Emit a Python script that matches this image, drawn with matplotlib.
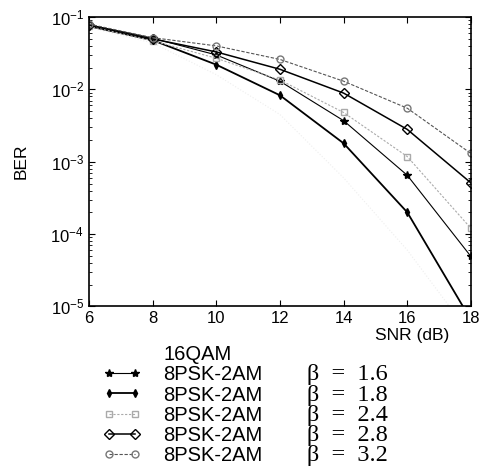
import matplotlib.pyplot as plt
import numpy as np
from matplotlib.ticker import LogLocator, FixedLocator, NullFormatter

plt.rcParams['font.family'] = ['Liberation Sans', 'DejaVu Sans']
plt.rcParams['mathtext.fontset'] = 'custom'
plt.rcParams['mathtext.rm'] = 'Liberation Sans'

# SNR (dB)
snr = [6, 8, 10, 12, 14, 16, 18]

# BER
ber_16qam = [0.072, 0.044, 0.016, 0.0045, 0.0006, 0.00006, 0.000004]
ber_b16 = [0.078, 0.051, 0.030, 0.013, 0.0037, 0.00065, 0.000049]
ber_b18 = [0.075, 0.048, 0.022, 0.0083, 0.0018, 0.00020, 0.0000065]
ber_b24 = [0.075, 0.047, 0.027, 0.0135, 0.0048, 0.00118, 0.00012]
ber_b28 = [0.078, 0.050, 0.033, 0.019, 0.0089, 0.0028, 0.00051]
ber_b32 = [0.080, 0.052, 0.040, 0.026, 0.013, 0.0055, 0.0013]

betas = ['β  =  1.6', 'β  =  1.8', 'β  =  2.4', 'β  =  2.8', 'β  =  3.2']

fig = plt.figure(figsize=(4.83, 4.75), dpi=100)
ax = fig.add_axes([0.184, 0.355, 0.791, 0.609])

h0, = ax.plot(snr, ber_16qam, linestyle=':', color='#eeeeee', lw=0.8)
h1, = ax.plot(snr, ber_b16, '-', color='k', lw=0.8, marker='*', ms=6,
              mfc='k', mec='k')
h2, = ax.plot(snr, ber_b18, '-', color='k', lw=1.3, marker='d', ms=4,
              mfc='k', mec='k')
h3, = ax.plot(snr, ber_b24, linestyle=(0, (2, 1.5)), color='#aaaaaa', lw=0.8,
              marker='s', ms=5, mfc='none', mec='#aaaaaa')
h4, = ax.plot(snr, ber_b28, '-', color='k', lw=1.1, marker='D', ms=5,
              mfc='none', mec='k')
h5, = ax.plot(snr, ber_b32, linestyle=(0, (3, 1.5)), color='#555555', lw=0.8,
              marker='o', ms=5, mfc='none', mec='#777777')

ax.set_yscale('log')
ax.set_xlim(6, 18)
ax.set_ylim(1e-5, 1e-1)
ax.xaxis.set_major_locator(FixedLocator(snr))
ax.yaxis.set_major_locator(LogLocator(base=10, numticks=10))
ax.yaxis.set_minor_locator(LogLocator(base=10, subs=np.arange(2, 10), numticks=10))
ax.yaxis.set_minor_formatter(NullFormatter())
ax.tick_params(which='both', direction='in', top=True, right=True, labelsize=12)
ax.tick_params(which='major', length=4)
ax.tick_params(which='minor', length=2)
for s in ax.spines.values():
    s.set_linewidth(1.2)

ax.set_ylabel('BER', fontsize=12.5, labelpad=16)
ax.xaxis.set_label_coords(0.845, -0.075)
ax.set_xlabel('SNR (dB)', fontsize=12.5, ha='center')

leg = fig.legend([h0, h1, h2, h3, h4, h5],
                 ['16QAM'] + ['8PSK-2AM'] * 5,
                 loc='upper left', bbox_to_anchor=(0.213, 0.273),
                 frameon=False, fontsize=14.5, numpoints=2, handlelength=1.9,
                 handletextpad=1.1, labelspacing=0.055, borderpad=0,
                 borderaxespad=0)
h_leg = leg.legend_handles
h_leg[0].set_visible(False)

fig.canvas.draw()
for txt, b in zip(leg.get_texts()[1:], betas):
    bb = txt.get_window_extent()
    yc = (bb.y0 + bb.y1) / 2 / fig.bbox.height
    fig.text(307 / 483, yc, b, fontsize=17.5, family='Liberation Serif',
             va='center', ha='left')

fig.savefig('out.png', dpi=100)
